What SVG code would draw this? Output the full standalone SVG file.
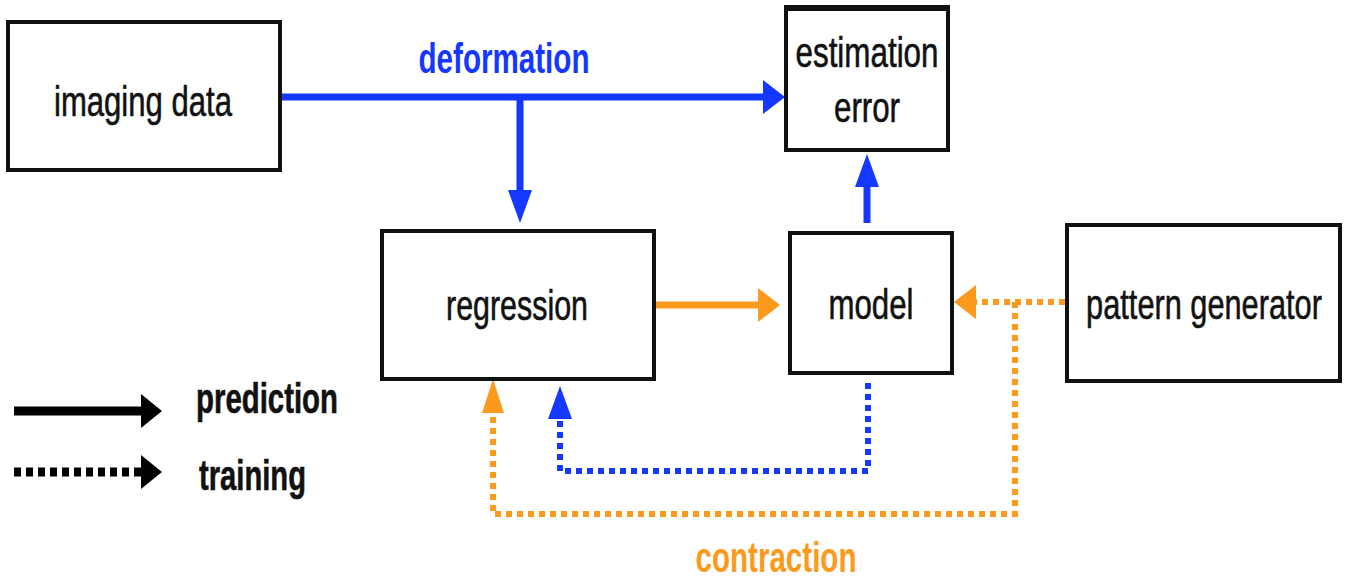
<svg xmlns="http://www.w3.org/2000/svg" width="1350" height="581" viewBox="0 0 1350 581">
<style>
.box{fill:#fff;stroke:#111;stroke-width:4}
.lbl{font-family:"Liberation Sans",Arial,sans-serif;font-size:43px;fill:#111;stroke:#111;stroke-width:0.6}
.clbl{font-family:"Liberation Sans",Arial,sans-serif;font-size:42px;font-weight:bold}
.blue{stroke:#1438ff;fill:none;stroke-width:7}
.orange{stroke:#fb9a1c;fill:none;stroke-width:7}
.bdot{stroke:#1438ff;fill:none;stroke-width:6;stroke-dasharray:6 5}
.odot{stroke:#fb9a1c;fill:none;stroke-width:6;stroke-dasharray:6 5}
.black{stroke:#000;fill:none;stroke-width:9}
.kdot{stroke:#000;fill:none;stroke-width:9;stroke-dasharray:7 5}
</style>
<defs>
<marker id="hb" markerUnits="userSpaceOnUse" markerWidth="24" markerHeight="36" refX="0" refY="17" orient="auto" overflow="visible"><path d="M0,0 L22,17 L0,34 Z" fill="#1438ff"/></marker>
<marker id="vb" markerUnits="userSpaceOnUse" markerWidth="36" markerHeight="26" refX="0" refY="12" orient="auto" overflow="visible"><path d="M0,0 L33,12 L0,24 Z" fill="#1438ff"/></marker>
<marker id="ho" markerUnits="userSpaceOnUse" markerWidth="24" markerHeight="36" refX="0" refY="17" orient="auto" overflow="visible"><path d="M0,0 L22,17 L0,34 Z" fill="#fb9a1c"/></marker>
<marker id="vo" markerUnits="userSpaceOnUse" markerWidth="36" markerHeight="26" refX="0" refY="11" orient="auto" overflow="visible"><path d="M0,0 L34,11 L0,22 Z" fill="#fb9a1c"/></marker>
<marker id="hk" markerUnits="userSpaceOnUse" markerWidth="24" markerHeight="36" refX="0" refY="17" orient="auto" overflow="visible"><path d="M0,0 L21,17 L0,34 Z" fill="#000"/></marker>
</defs>

<g id="connectors">
<path class="blue" d="M280,97 H763" marker-end="url(#hb)"/>
<path class="blue" d="M520,97 V190" marker-end="url(#vb)"/>
<path class="blue" d="M867,223 V187" marker-end="url(#vb)"/>
<path class="orange" d="M656,305 H758" marker-end="url(#ho)"/>
<path class="odot" d="M1065,302 H976" marker-end="url(#ho)"/>
<path class="odot" d="M1015,302 V514 H493 V413" marker-end="url(#vo)"/>
<path class="bdot" d="M868,383 V471 H560 V419" marker-end="url(#vb)"/>
<text class="clbl" x="504" y="73" text-anchor="middle" fill="#1438ff" textLength="171" lengthAdjust="spacingAndGlyphs">deformation</text>
<text class="clbl" x="776" y="572" text-anchor="middle" fill="#fb9a1c" textLength="161" lengthAdjust="spacingAndGlyphs">contraction</text>
</g>

<g id="imaging-data">
<rect class="box" x="8" y="22" width="272" height="148"/>
<text class="lbl" x="143" y="116" text-anchor="middle" textLength="178" lengthAdjust="spacingAndGlyphs">imaging data</text>
</g>

<g id="estimation-error">
<rect class="box" x="786" y="8" width="162" height="142"/>
<line x1="784" y1="8" x2="950" y2="8" stroke="#111" stroke-width="6"/>
<text class="lbl" x="867" y="67" text-anchor="middle" textLength="143" lengthAdjust="spacingAndGlyphs">estimation</text>
<text class="lbl" x="867" y="122" text-anchor="middle" textLength="66" lengthAdjust="spacingAndGlyphs">error</text>
</g>

<g id="regression">
<rect class="box" x="382" y="231" width="272" height="148"/>
<text class="lbl" x="517" y="320" text-anchor="middle" textLength="142" lengthAdjust="spacingAndGlyphs">regression</text>
</g>

<g id="model">
<rect class="box" x="790" y="233" width="162" height="140"/>
<text class="lbl" x="871" y="319" text-anchor="middle" textLength="85" lengthAdjust="spacingAndGlyphs">model</text>
</g>

<g id="pattern-generator">
<rect class="box" x="1067" y="225" width="273" height="156"/>
<text class="lbl" transform="translate(1204,319) scale(0.715,1)" x="0" y="0" text-anchor="middle">pattern generator</text>
</g>

<g id="legend">
<path class="black" d="M14,411 H141" marker-end="url(#hk)"/>
<path class="kdot" d="M14,472 H141" marker-end="url(#hk)"/>
<text class="lbl" x="196" y="413" font-weight="bold" stroke-width="0.3" textLength="142" lengthAdjust="spacingAndGlyphs">prediction</text>
<text class="lbl" x="199" y="490" font-weight="bold" stroke-width="0.3" textLength="107" lengthAdjust="spacingAndGlyphs">training</text>
</g>
</svg>
